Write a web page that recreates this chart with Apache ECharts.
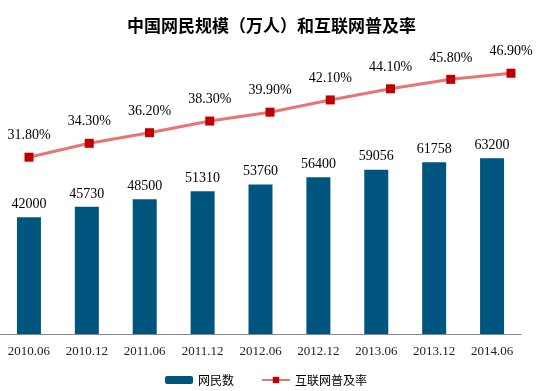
<!DOCTYPE html>
<html><head><meta charset="utf-8">
<script src="https://cdn.jsdelivr.net/npm/echarts@6/dist/echarts.min.js"></script>
<style>html,body{margin:0;padding:0;background:#fff}#c{width:543px;height:391px}</style>
</head><body><div id="c"></div>
<script>
var categories = ['2010.06','2010.12','2011.06','2011.12','2012.06','2012.12','2013.06','2013.12','2014.06'];
var netizens = [42000,45730,48500,51310,53760,56400,59056,61758,63200];
var penetration = [31.8,34.3,36.2,38.3,39.9,42.1,44.1,45.8,46.9];
var chart = echarts.init(document.getElementById('c'));
chart.setOption({
  animation:false,
  backgroundColor:'#fff',
  title:{text:'中国网民规模（万人）和互联网普及率',left:'center',top:12,
    textStyle:{fontFamily:'Noto Sans CJK SC',fontSize:17,fontWeight:'bold',color:'#000'}},
  legend:{left:160,top:369,itemWidth:28,itemHeight:8,itemGap:27,
    textStyle:{fontFamily:'Noto Sans CJK SC',fontSize:12,color:'#000'},
    data:['网民数','互联网普及率']},
  grid:[{left:0,right:22,top:56,bottom:57},
        {left:29,right:32,top:56,bottom:57}],
  xAxis:[{type:'category',data:categories,gridIndex:0,
    axisLine:{lineStyle:{color:'#888'}},
    axisTick:{length:5,lineStyle:{color:'#888'}},
    axisLabel:{fontFamily:'Liberation Serif',fontSize:13,color:'#222',margin:11}},
    {type:'category',data:categories,gridIndex:1,boundaryGap:false,show:false}],
  yAxis:[{type:'value',min:0,max:100000,show:false,gridIndex:0},
         {type:'value',min:0,max:50,show:false,gridIndex:1}],
  series:[
    {name:'网民数',type:'bar',data:netizens,barWidth:24,xAxisIndex:0,yAxisIndex:0,
     itemStyle:{color:'#00557F'},
     label:{show:true,position:'top',distance:6,fontFamily:'Liberation Serif',fontSize:14,color:'#000'}},
    {name:'互联网普及率',type:'line',data:penetration,xAxisIndex:1,yAxisIndex:1,
     lineStyle:{color:'#E87474',width:3},
     symbol:'rect',symbolSize:9,
     itemStyle:{color:'#C00000'},
     label:{show:true,position:'top',distance:10,fontFamily:'Liberation Serif',fontSize:14,color:'#000',
       formatter:function(p){return p.value.toFixed(2)+'%';}}}
  ]
});
</script></body></html>
